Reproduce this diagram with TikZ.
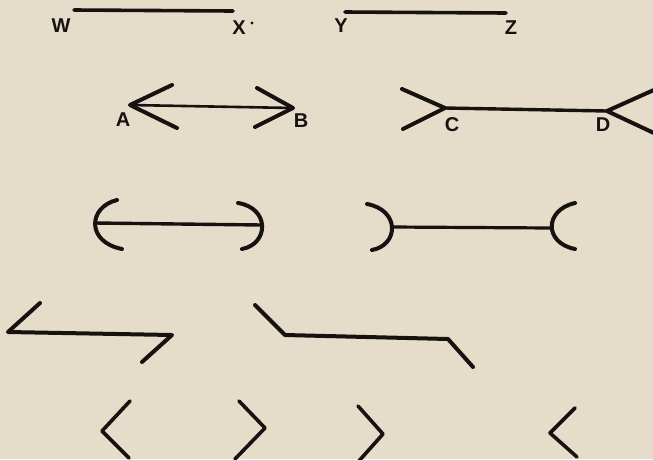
\documentclass[tikz,border=0pt]{standalone}
\usepackage{fontspec}
\setmainfont{Liberation Sans}
\begin{document}
\begin{tikzpicture}[x=1pt,y=-1pt,
  lbl/.style={font=\fontsize{20}{20}\selectfont\bfseries, inner sep=0pt, text=ink},
  stroke/.style={draw=ink, line width=4pt, line cap=round, line join=round},
  thin stroke/.style={draw=ink, line width=2.6pt, line cap=round, line join=round}]
\definecolor{paper}{RGB}{229,221,202}
\definecolor{ink}{RGB}{22,18,16}
\fill[paper] (0,0) rectangle (653,459);
\useasboundingbox (0,0) rectangle (653,459);

% Row 1
\node[lbl] (W) at (61,26) {W};
\node[lbl] (X) at (239,28) {X};
\fill[ink] (252,23) circle (1.6pt);
\coordinate (w1) at (74,10);
\coordinate (x1) at (233,11);
\draw[stroke, line width=3.6pt] (w1) -- (x1);
\node[lbl] (Y) at (341,26) {Y};
\node[lbl] (Z) at (511,28) {Z};
\coordinate (y1) at (345,12);
\coordinate (z1) at (506,13);
\draw[stroke, line width=3.6pt] (y1) -- (z1);

% Row 2: A <-> B
\node[lbl] (A) at (123,120) {A};
\node[lbl] (B) at (301,121) {B};
\coordinate (a) at (130,105);
\coordinate (b) at (293,108);
\draw[thin stroke] (a) -- (b);
\draw[stroke] (172,85) -- (a) -- (177,128);
\draw[stroke] (257,88) -- (b) -- (255,127);

% Row 2: C >-< D
\node[lbl] (C) at (452,125) {C};
\node[lbl] (D) at (603,125) {D};
\coordinate (c) at (445,108);
\coordinate (d) at (607,111);
\draw[stroke, line width=3.4pt] (c) -- (d);
\draw[stroke] (402,89) -- (c) -- (403,129);
\draw[stroke] (656,89) -- (d) -- (656,134);

% Row 3: ( --- )
\coordinate (p1) at (95,223);
\coordinate (p2) at (262,225);
\draw[stroke, line width=3.4pt] (p1) -- (p2);
\draw[stroke] (117,200) .. controls (88,207) and (86,242) .. (122,249);
\draw[stroke] (238,203) .. controls (270,208) and (269,244) .. (242,249);

% Row 3: ) --- (
\coordinate (q1) at (392,227);
\coordinate (q2) at (552,228);
\draw[stroke, line width=3.2pt] (q1) -- (q2);
\draw[stroke] (367,204) .. controls (400,210) and (399,245) .. (372,250);
\draw[stroke] (575,203) .. controls (544,210) and (544,243) .. (575,249);

% Row 4: zigzags
\draw[stroke] (40,303) -- (8,332) -- (172,335) -- (142,362);
\draw[stroke] (255,305) -- (285,335) -- (448,339) -- (473,367);

% Row 5: chevrons
\draw[stroke, line width=3.6pt] (130,401) -- (102,431) -- (129,458);
\draw[stroke, line width=3.6pt] (239,401) -- (265,428) -- (235,459);
\draw[stroke, line width=3.6pt] (358,406) -- (383,434) -- (358,462);
\draw[stroke, line width=3.6pt] (575,408) -- (550,433) -- (577,457);
\end{tikzpicture}
\end{document}
